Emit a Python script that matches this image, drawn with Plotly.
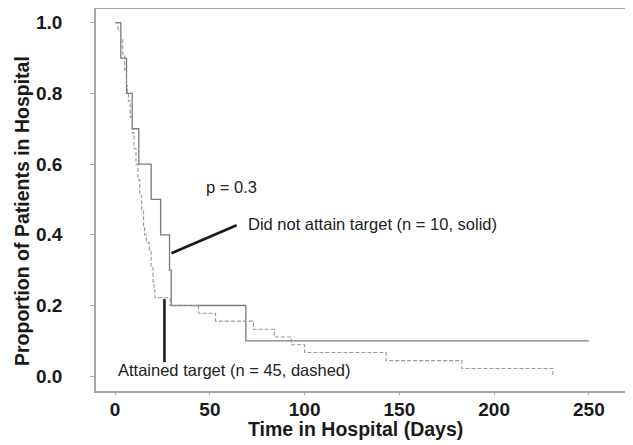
import plotly.graph_objects as go

# Kaplan-Meier style step data
solid_days = [0, 3, 6, 9, 12.5, 19, 24, 28.7, 29.6, 69, 250]
solid_prop = [1.0, 0.9, 0.8, 0.7, 0.6, 0.5, 0.4, 0.3, 0.2, 0.1, 0.1]

dashed_days = [0, 1.5, 3, 4, 5, 6, 6.5, 7, 8, 9, 10, 11, 12, 13, 14, 15, 15.5,
               16.5, 18, 19, 20, 20.5, 21, 29, 44, 53, 73, 84, 93, 100, 143,
               183, 231]
dashed_prop = [1.0, 0.978, 0.956, 0.911, 0.867, 0.822, 0.8, 0.778, 0.733, 0.689,
               0.644, 0.6, 0.556, 0.511, 0.467, 0.422, 0.4, 0.378, 0.356, 0.311,
               0.267, 0.244, 0.222, 0.2, 0.178, 0.156, 0.133, 0.111, 0.089,
               0.067, 0.044, 0.022, 0.0]

x_ticks = [0, 50, 100, 150, 200, 250]
y_ticks = [0.0, 0.2, 0.4, 0.6, 0.8, 1.0]
y_tick_labels = ["0.0", "0.2", "0.4", "0.6", "0.8", "1.0"]

x_title = "Time in Hospital (Days)"
y_title = "Proportion of Patients in Hospital"
p_text = "p = 0.3"
solid_label = "Did not attain target (n = 10, solid)"
dashed_label = "Attained target (n = 45, dashed)"

fig = go.Figure()
fig.add_trace(go.Scatter(x=dashed_days, y=dashed_prop, mode="lines", xaxis="x2", yaxis="y",
                         line=dict(shape="hv", color="#999999", width=1.1, dash="4px,2px"),
                         showlegend=False, hoverinfo="skip"))
fig.add_trace(go.Scatter(x=solid_days, y=solid_prop, mode="lines",
                         line=dict(shape="hv", color="#7a7a7a", width=1.3),
                         showlegend=False, hoverinfo="skip"))

# pointer lines
fig.add_shape(type="line", x0=29.7, y0=0.348, x1=64.1, y1=0.427,
              line=dict(color="#1a1a1a", width=2.6))
fig.add_shape(type="line", x0=26, y0=0.218, x1=26, y1=0.04,
              line=dict(color="#1a1a1a", width=2.6))

ann_font = dict(family="Arial, Liberation Sans, sans-serif", size=16.5, color="#222222")
fig.add_annotation(x=47, y=0.535, text=p_text, showarrow=False, xanchor="left",
                   yanchor="middle", font=ann_font)
fig.add_annotation(x=68.8, y=0.43, text=solid_label, showarrow=False, xanchor="left",
                   yanchor="middle", font=ann_font)
fig.add_annotation(x=0.2, y=0.017, text=dashed_label, showarrow=False, xanchor="left",
                   yanchor="middle", font=ann_font)

axis_color = "#a8a8a8"
tick_font = dict(family="Arial, Liberation Sans", size=19, color="#1a1a1a", weight="bold")
title_font = dict(family="Arial, Liberation Sans", size=19.5, color="#1a1a1a", weight="bold")

# axis titles placed as text in page pixels (figure is offset 8px by the page body)
fig.add_annotation(x=347, y=421, xref="paper", yref="paper", text=x_title,
                   showarrow=False, xanchor="center", yanchor="middle", font=title_font)
fig.add_annotation(x=14, y=203, xref="paper", yref="paper", text=y_title, textangle=-90,
                   showarrow=False, xanchor="center", yanchor="middle", font=title_font)

W, H = 625, 437
ML, MR, MT, MB = 88, 0, 1, 54
for a in fig.layout.annotations[-2:]:
    a.x = (a.x - ML) / (W - ML - MR)
    a.y = 1 - (a.y - MT) / (H - MT - MB)

x_range = [-10.1, 273.3]
fig.update_layout(
    width=W, height=H,
    margin=dict(l=ML, r=MR, t=MT, b=MB),
    paper_bgcolor="white", plot_bgcolor="white",
    font=dict(family="Arial, Liberation Sans, sans-serif"),
    xaxis=dict(range=x_range, tickvals=x_ticks, ticktext=[str(v) for v in x_ticks],
               showgrid=False, zeroline=False, showline=True, mirror=True,
               linecolor=axis_color, linewidth=1.5, ticks="",
               tickfont=tick_font, ticklabelstandoff=0),
    # second (overlaid) x axis only draws the short outside tick marks
    xaxis2=dict(range=x_range, matches="x", overlaying="x", anchor="y", side="bottom",
                tickvals=x_ticks, showticklabels=False, showgrid=False, zeroline=False,
                showline=False, ticks="outside", ticklen=3, tickcolor=axis_color,
                tickwidth=1.2),
    yaxis=dict(range=[-0.0418, 1.0388], tickvals=y_ticks, ticktext=y_tick_labels,
               showgrid=False, zeroline=False, showline=True, mirror=False,
               linecolor=axis_color, linewidth=1.5, ticks="outside", ticklen=4,
               tickcolor=axis_color, tickfont=tick_font, ticklabelstandoff=24),
)

fig.write_html("out.html")
